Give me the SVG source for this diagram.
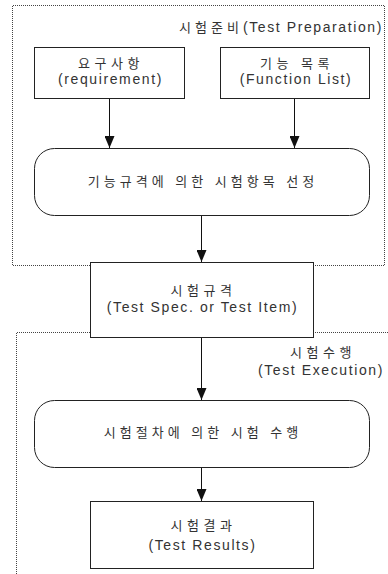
<svg xmlns="http://www.w3.org/2000/svg" width="388" height="574" viewBox="0 0 388 574">
<defs>
<style>
.bg{fill:#fff}
.frame{fill:none;stroke:#444;stroke-width:1;stroke-dasharray:1 1}
.box{fill:#fff;stroke:#222;stroke-width:1}
.conn{fill:none;stroke:#111;stroke-width:1}
text{font-family:"Liberation Sans","Noto Sans CJK KR",sans-serif;font-size:14px;fill:#333;letter-spacing:1.6px}
.c{text-anchor:middle}
.ko{font-size:13px;letter-spacing:4.5px}
.kol{font-size:13px;letter-spacing:4px}
</style>
<marker id="ah" viewBox="0 0 12 10" refX="12" refY="5" markerWidth="12" markerHeight="10" markerUnits="userSpaceOnUse" orient="auto">
<path d="M0,0 L12,5 L0,10 z" fill="#111"/>
</marker>
</defs>
<rect class="bg" x="0" y="0" width="388" height="574"/>
<g id="frames">
<path class="frame" d="M90,265.5 H12.5 V5.5 H384.5 V265.5 H313"/>
<path class="frame" d="M90,332.5 H16.5 V574 M313,332.5 H388"/>
<text x="383" y="32" style="text-anchor:end"><tspan style="font-size:13px;letter-spacing:4px">시험준비</tspan>(Test Preparation)</text>
<text class="c ko" x="323" y="357">시험수행</text>
<text class="c" x="321" y="375">(Test Execution)</text>
</g>
<g id="connectors">
<line class="conn" x1="109.5" y1="98" x2="109.5" y2="148" marker-end="url(#ah)"/>
<line class="conn" x1="294.5" y1="98" x2="294.5" y2="148" marker-end="url(#ah)"/>
<line class="conn" x1="201.5" y1="215" x2="201.5" y2="262" marker-end="url(#ah)"/>
<line class="conn" x1="201.5" y1="337" x2="201.5" y2="400" marker-end="url(#ah)"/>
<line class="conn" x1="201.5" y1="467" x2="201.5" y2="501" marker-end="url(#ah)"/>
</g>
<g id="requirement">
<rect class="box" x="34.5" y="47.5" width="150" height="51"/>
<text class="c ko" x="111" y="68">요구사항</text>
<text class="c" x="110.5" y="84">(requirement)</text>
</g>
<g id="function-list">
<rect class="box" x="220.5" y="47.5" width="149" height="51"/>
<text class="c ko" x="297" y="68">기능 목록</text>
<text class="c" x="296" y="84">(Function List)</text>
</g>
<g id="select-items">
<rect class="box" x="34.5" y="148.5" width="335" height="67" rx="20" ry="20"/>
<text class="c kol" x="203" y="186">기능규격에 의한 시험항목 선정</text>
</g>
<g id="test-spec">
<rect class="box" x="90.5" y="262.5" width="223" height="75"/>
<text class="c ko" x="203.5" y="295">시험규격</text>
<text class="c" x="202.5" y="312">(Test Spec. or Test Item)</text>
</g>
<g id="execute">
<rect class="box" x="34.5" y="400.5" width="335" height="67" rx="20" ry="20"/>
<text class="c kol" x="203" y="437">시험절차에 의한 시험 수행</text>
</g>
<g id="results">
<rect class="box" x="90.5" y="501.5" width="223" height="67"/>
<text class="c ko" x="203.5" y="530">시험결과</text>
<text class="c" x="202.5" y="550">(Test Results)</text>
</g>
</svg>
